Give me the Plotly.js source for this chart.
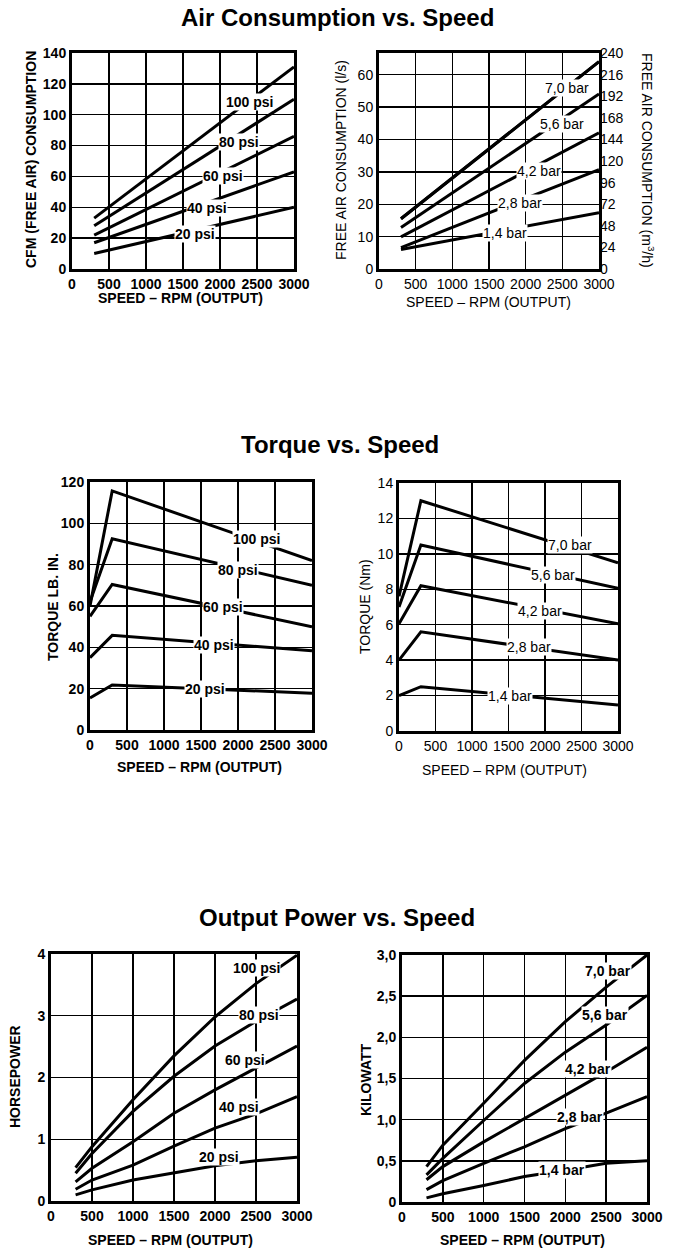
<!DOCTYPE html>
<html>
<head>
<meta charset="utf-8">
<script src="https://cdn.plot.ly/plotly-3.0.1.min.js"></script>
<style>
html,body{margin:0;padding:0;background:#fff;}
#chart{width:674px;height:1260px;}
</style>
</head>
<body>
<div id="chart"></div>
<script>
// ---------------- DATA ----------------
const psiLabels = ["100 psi", "80 psi", "60 psi", "40 psi", "20 psi"];
const barLabels = ["7,0 bar", "5,6 bar", "4,2 bar", "2,8 bar", "1,4 bar"];

// Air consumption vs speed (CFM)
const airSpeed = [300, 3000];
const cfm100 = [33, 131];
const cfm80 = [28, 110];
const cfm60 = [22, 86];
const cfm40 = [17, 63];
const cfm20 = [10, 40];

// Air consumption (l/s)
const ls70 = [15.5, 64];
const ls56 = [12.8, 54];
const ls42 = [9.9, 42];
const ls28 = [6.6, 30.7];
const ls14 = [6.0, 17.4];
const LS_TO_M3H = 3.6;

// Torque vs speed
const torqueSpeed = [0, 300, 3000];
const lbin100 = [60, 115.7, 82];
const lbin80 = [62, 92.5, 70];
const lbin60 = [55, 70.4, 50];
const lbin40 = [35, 45.8, 38.3];
const lbin20 = [15.5, 21.8, 17.8];

const nm70 = [7.6, 13.0, 9.5];
const nm56 = [7.0, 10.5, 8.05];
const nm42 = [6.05, 8.2, 6.05];
const nm28 = [4.0, 5.6, 4.0];
const nm14 = [2.0, 2.5, 1.47];

// Output power vs speed
const powerSpeed = [300, 500, 1000, 1500, 2000, 2500, 3000];
const hp100 = [0.54, 0.88, 1.64, 2.35, 2.98, 3.52, 3.98];
const hp80 = [0.45, 0.77, 1.45, 2.02, 2.51, 2.91, 3.27];
const hp60 = [0.31, 0.53, 0.96, 1.42, 1.80, 2.15, 2.51];
const hp40 = [0.19, 0.34, 0.58, 0.89, 1.18, 1.41, 1.69];
const hp20 = [0.10, 0.18, 0.34, 0.45, 0.57, 0.65, 0.71];

const kw70 = [0.43, 0.69, 1.20, 1.72, 2.19, 2.61, 3.0];
const kw56 = [0.33, 0.53, 0.99, 1.44, 1.82, 2.15, 2.51];
const kw42 = [0.27, 0.43, 0.73, 1.01, 1.30, 1.58, 1.88];
const kw28 = [0.15, 0.26, 0.47, 0.67, 0.89, 1.08, 1.28];
const kw14 = [0.05, 0.10, 0.20, 0.31, 0.385, 0.47, 0.50];

// Tick values / labels
const speedTicks = [0, 500, 1000, 1500, 2000, 2500, 3000];
const cfmTicks = [0, 20, 40, 60, 80, 100, 120, 140];
const lsTicks = [0, 10, 20, 30, 40, 50, 60];
const m3hTicks = [0, 24, 48, 72, 96, 120, 144, 168, 192, 216, 240];
const lbinTicks = [0, 20, 40, 60, 80, 100, 120];
const nmTicks = [0, 2, 4, 6, 8, 10, 12, 14];
const hpTicks = [0, 1, 2, 3, 4];
const kwTicks = [0, 0.5, 1.0, 1.5, 2.0, 2.5, 3.0];
const kwTickText = ["0", "0,5", "1,0", "1,5", "2,0", "2,5", "3,0"];

// label positions (data coords)
const cfmLabelPos = [[2400, 108.5], [2250, 82.5], [2045, 60], [1820, 39.5], [1660, 22.5]];
const lsLabelPos = [[2560, 56], [2495, 44.7], [2175, 30.2], [1925, 20.3], [1720, 11.0]];
const lbinLabelPos = [[2250, 92.5], [2005, 77.2], [1800, 59.5], [1670, 41.3], [1555, 19.9]];
const nmLabelPos = [[2345, 10.5], [2115, 8.8], [1935, 6.8], [1775, 4.72], [1525, 1.97]];
const hpLabelPos = [[2510, 3.77], [2535, 3.01], [2370, 2.28], [2290, 1.53], [2045, 0.72]];
const kwLabelPos = [[2520, 2.80], [2485, 2.27], [2280, 1.62], [2175, 1.03], [1955, 0.385]];

// ---------------- STYLE / LAYOUT ----------------
const W = 674, H = 1260;
const FONT = "'Liberation Sans', Arial, Helvetica, sans-serif";

// pixel boxes of plot areas [left, top, right, bottom]
const boxes = {
  c1: [72, 53, 294, 269],
  c2: [379, 53, 599, 269],
  c3: [90, 482, 312, 730],
  c4: [399, 483, 618, 731],
  c5: [51, 954, 297, 1201],
  c6: [402, 955, 647, 1202]
};
function xdom(b) { return [b[0] / W, b[2] / W]; }
function ydom(b) { return [1 - b[3] / H, 1 - b[1] / H]; }

function tickFont(bold) {
  return {family: FONT, size: 14, color: "#000", weight: bold ? "bold" : "normal"};
}
function xAxis(b, yanchor, bold) {
  return {
    domain: xdom(b), anchor: yanchor, range: [0, 3000],
    tickvals: speedTicks, ticks: "", tickangle: 0,
    showgrid: true, gridcolor: "#000", gridwidth: 1.4,
    zeroline: false, showline: true, mirror: true, linecolor: "#000", linewidth: 3,
    tickfont: tickFont(bold), fixedrange: true
  };
}
function yAxis(b, xanchor, range, ticks, bold, ticktext) {
  const a = {
    domain: ydom(b), anchor: xanchor, range: range,
    tickvals: ticks, ticks: "", tickangle: 0,
    showgrid: true, gridcolor: "#000", gridwidth: 1.4,
    zeroline: false, showline: true, mirror: true, linecolor: "#000", linewidth: 3,
    tickfont: tickFont(bold), fixedrange: true
  };
  if (ticktext) a.ticktext = ticktext;
  return a;
}

const traces = [];
function addSeries(xs, ysList, names, xa, ya) {
  ysList.forEach((ys, i) => {
    traces.push({
      x: xs, y: ys, xaxis: xa, yaxis: ya, name: names[i],
      mode: "lines", line: {color: "#000", width: 3, shape: "linear"},
      hoverinfo: "skip", showlegend: false
    });
  });
}
addSeries(airSpeed, [cfm100, cfm80, cfm60, cfm40, cfm20], psiLabels, "x", "y");
addSeries(airSpeed, [ls70, ls56, ls42, ls28, ls14], barLabels, "x2", "y2");
// same 7,0 bar series expressed in m3/h on the right-hand axis (drawn underneath, identical position)
traces.push({
  x: airSpeed, y: ls70.map(v => v * LS_TO_M3H), xaxis: "x2", yaxis: "y3",
  name: "7,0 bar (m3/h)", mode: "lines", line: {color: "#000", width: 3},
  hoverinfo: "skip", showlegend: false
});
addSeries(torqueSpeed, [lbin100, lbin80, lbin60, lbin40, lbin20], psiLabels, "x3", "y4");
addSeries(torqueSpeed, [nm70, nm56, nm42, nm28, nm14], barLabels, "x4", "y5");
addSeries(powerSpeed, [hp100, hp80, hp60, hp40, hp20], psiLabels, "x5", "y6");
addSeries(powerSpeed, [kw70, kw56, kw42, kw28, kw14], barLabels, "x6", "y7");

const annotations = [];
function lineLabels(texts, pos, xref, yref, bold) {
  texts.forEach((t, i) => {
    annotations.push({
      text: t, x: pos[i][0], y: pos[i][1], xref: xref, yref: yref,
      showarrow: false, bgcolor: "#fff", borderpad: 0,
      font: {family: FONT, size: 14, color: "#000", weight: bold ? "bold" : "normal"}
    });
  });
}
lineLabels(psiLabels, cfmLabelPos, "x", "y", true);
lineLabels(barLabels, lsLabelPos, "x2", "y2", false);
lineLabels(psiLabels, lbinLabelPos, "x3", "y4", true);
lineLabels(barLabels, nmLabelPos, "x4", "y5", false);
lineLabels(psiLabels, hpLabelPos, "x5", "y6", true);
lineLabels(barLabels, kwLabelPos, "x6", "y7", true);

function pText(t, px, py, opts) {
  const o = Object.assign({size: 14, bold: true, angle: 0}, opts || {});
  annotations.push({
    text: t, x: px / W, y: 1 - py / H, xref: "paper", yref: "paper",
    xanchor: "center", yanchor: "middle", showarrow: false, textangle: o.angle,
    font: {family: FONT, size: o.size, color: "#000", weight: o.bold ? "bold" : "normal"}
  });
}
// section titles
pText("Air Consumption vs. Speed", 337, 18, {size: 24});
pText("Torque vs. Speed", 340, 444, {size: 24});
pText("Output Power vs. Speed", 337, 917, {size: 24});
// axis titles
pText("SPEED – RPM (OUTPUT)", 180, 298);
pText("CFM (FREE AIR) CONSUMPTION", 31, 160, {angle: -90});
pText("SPEED – RPM (OUTPUT)", 488, 302, {bold: false});
pText("FREE AIR CONSUMPTION (l/s)", 341, 160, {angle: -90, bold: false});
pText("FREE AIR CONSUMPTION (m<sup>3</sup>/h)", 648, 160, {angle: 90, bold: false});
pText("SPEED – RPM (OUTPUT)", 200, 767);
pText("TORQUE LB. IN.", 53, 607, {angle: -90});
pText("SPEED – RPM (OUTPUT)", 505, 770, {bold: false});
pText("TORQUE (Nm)", 365, 607, {angle: -90, bold: false});
pText("SPEED – RPM (OUTPUT)", 170, 1240);
pText("HORSEPOWER", 15, 1077, {angle: -90});
pText("SPEED – RPM (OUTPUT)", 522, 1240);
pText("KILOWATT", 366, 1080, {angle: -90});

const layout = {
  width: W, height: H,
  margin: {l: 0, r: 0, t: 0, b: 0},
  paper_bgcolor: "#fff", plot_bgcolor: "#fff",
  showlegend: false,
  xaxis: xAxis(boxes.c1, "y", true),
  yaxis: yAxis(boxes.c1, "x", [0, 140], cfmTicks, true),
  xaxis2: xAxis(boxes.c2, "y2", false),
  yaxis2: yAxis(boxes.c2, "x2", [0, 240 / LS_TO_M3H], lsTicks, false),
  yaxis3: {
    domain: ydom(boxes.c2), anchor: "x2", overlaying: "y2", side: "right",
    range: [0, 240], tickvals: m3hTicks, ticks: "", tickangle: 0,
    showgrid: false, zeroline: false, showline: false, fixedrange: true,
    tickfont: tickFont(false)
  },
  xaxis3: xAxis(boxes.c3, "y4", true),
  yaxis4: yAxis(boxes.c3, "x3", [0, 120], lbinTicks, true),
  xaxis4: xAxis(boxes.c4, "y5", false),
  yaxis5: yAxis(boxes.c4, "x4", [0, 14], nmTicks, false),
  xaxis5: xAxis(boxes.c5, "y6", true),
  yaxis6: yAxis(boxes.c5, "x5", [0, 4], hpTicks, true),
  xaxis6: xAxis(boxes.c6, "y7", true),
  yaxis7: yAxis(boxes.c6, "x6", [0, 3], kwTicks, true, kwTickText),
  annotations: annotations
};

Plotly.newPlot("chart", traces, layout, {staticPlot: true, displayModeBar: false});
</script>
</body>
</html>
